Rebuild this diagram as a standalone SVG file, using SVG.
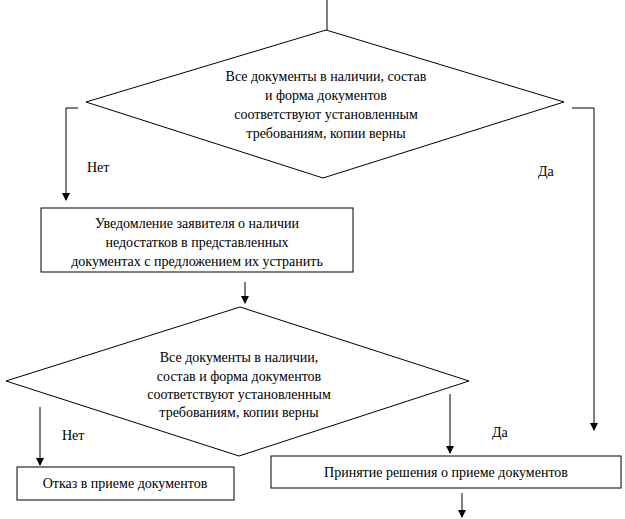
<svg xmlns="http://www.w3.org/2000/svg" width="625" height="519" viewBox="0 0 625 519" font-family="'Liberation Serif', 'DejaVu Serif', serif" font-size="14">
<style>
.s{fill:#fff;stroke:#000;stroke-width:1}
.l{fill:none;stroke:#000;stroke-width:1}
.c{text-anchor:middle}
</style>
<defs><marker id="a" markerWidth="8" markerHeight="8" refX="7" refY="4" orient="auto" markerUnits="userSpaceOnUse"><path d="M0,0L8,4L0,8z"/></marker></defs>
<rect width="625" height="519" fill="#fff"/>
<g id="connectors">
<path class="l" d="M327,0V30"/>
<path class="l" d="M78,108H66V200" marker-end="url(#a)"/>
<path class="l" d="M572,108H594V430" marker-end="url(#a)"/>
<path class="l" d="M245,282V303" marker-end="url(#a)"/>
<path class="l" d="M40,407V465" marker-end="url(#a)"/>
<path class="l" d="M450,394V453" marker-end="url(#a)"/>
<path class="l" d="M462,493V517" marker-end="url(#a)"/>
<text x="87" y="172">Нет</text>
<text x="538" y="176">Да</text>
<text x="62" y="440">Нет</text>
<text x="492" y="437">Да</text>
</g>
<g id="d1"><polygon class="s" points="326,30 564,102 323,178 86,102"/>
<text class="c" x="326" y="81">Все документы в наличии, состав</text>
<text class="c" x="326" y="100">и форма документов</text>
<text class="c" x="326" y="119">соответствуют установленным</text>
<text class="c" x="326" y="138">требованиям, копии верны</text></g>
<g id="b1"><rect class="s" x="41" y="208" width="312" height="64"/>
<text class="c" x="197" y="228">Уведомление заявителя о наличии</text>
<text class="c" x="197" y="247">недостатков в представленных</text>
<text class="c" x="197" y="266">документах с предложением их устранить</text></g>
<g id="d2"><polygon class="s" points="240,307 469,381 239,456 6,381"/>
<text class="c" x="239" y="362">Все документы в наличии,</text>
<text class="c" x="239" y="381">состав и форма документов</text>
<text class="c" x="239" y="399">соответствуют установленным</text>
<text class="c" x="239" y="417">требованиям, копии верны</text></g>
<g id="b3"><rect class="s" x="17" y="467" width="217" height="33"/>
<text class="c" x="125" y="488">Отказ в приеме документов</text></g>
<g id="b4"><rect class="s" x="271" y="456" width="350" height="32"/>
<text class="c" x="446" y="477">Принятие решения о приеме документов</text></g>
</svg>
